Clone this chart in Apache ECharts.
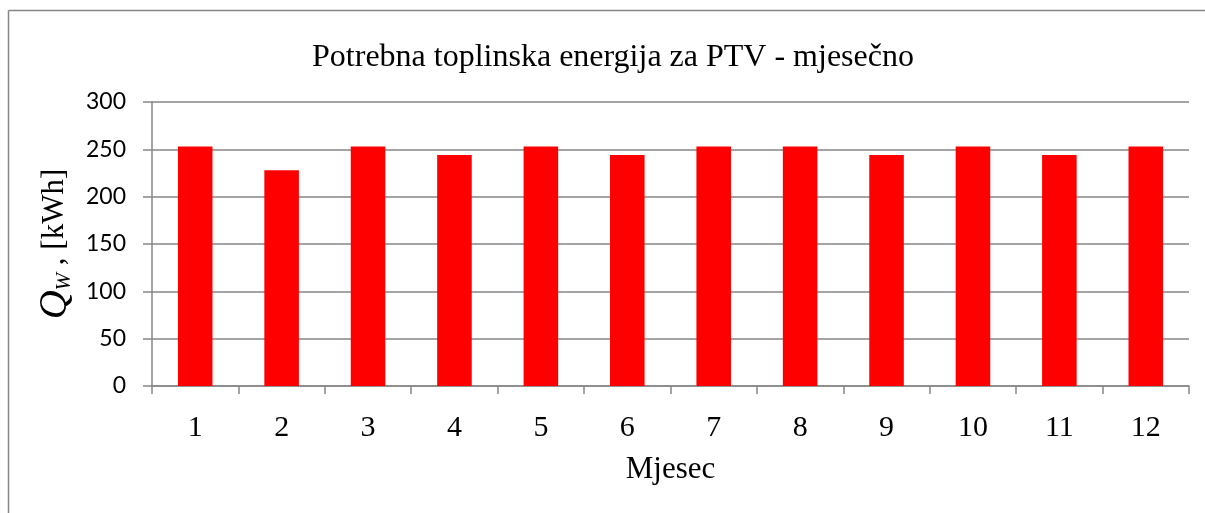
<!DOCTYPE html>
<html>
<head>
<meta charset="utf-8">
<script src="https://cdn.jsdelivr.net/npm/echarts@6/dist/echarts.min.js"></script>
<style>html,body{margin:0;padding:0;background:#fff}#c{width:1205px;height:513px}</style>
</head>
<body>
<div id="c"></div>
<script>
const months = ['1','2','3','4','5','6','7','8','9','10','11','12'];
const energy = [253, 228, 253, 244, 253, 244, 253, 253, 244, 253, 244, 253];
const yTicks = {min: 0, max: 300, interval: 50};
const titleText = 'Potrebna toplinska energija za PTV - mjesečno';
const xName = 'Mjesec';

const chart = echarts.init(document.getElementById('c'), null, {renderer: 'canvas'});
const gray = '#868686';
chart.setOption({
  animation: false,
  backgroundColor: '#fff',
  title: {
    text: titleText, left: 608, top: 37, textAlign: 'center',
    textStyle: {fontFamily: 'Liberation Serif', fontSize: 32, fontWeight: 'normal', color: '#000'}
  },
  graphic: [
    {type: 'line', shape: {x1: 8.5, y1: 10.5, x2: 1205, y2: 10.5}, style: {stroke: gray, lineWidth: 1.5}},
    {type: 'line', shape: {x1: 8.5, y1: 10.5, x2: 8.5, y2: 513}, style: {stroke: gray, lineWidth: 1.5}}
  ],
  grid: {left: 152, right: 16, top: 102, bottom: 127},
  xAxis: {
    type: 'category', data: months,
    name: xName, nameLocation: 'middle', nameGap: 68,
    nameTextStyle: {fontFamily: 'Liberation Serif', fontSize: 31, color: '#000'},
    axisLine: {lineStyle: {color: gray, width: 1.5}},
    axisTick: {show: true, length: 8, lineStyle: {color: gray, width: 1.5}},
    axisLabel: {fontFamily: 'Liberation Serif', fontSize: 30, color: '#000', margin: 27}
  },
  yAxis: {
    type: 'value', min: yTicks.min, max: yTicks.max, interval: yTicks.interval,
    name: '{q|Q}{s|W}{n| , [kWh]}', nameLocation: 'middle', nameRotate: 90, nameGap: 74,
    nameTextStyle: {
      rich: {
        q: {fontFamily: 'Liberation Serif', fontStyle: 'italic', fontSize: 40, color: '#000', lineHeight: 40, verticalAlign: 'middle'},
        s: {fontFamily: 'Liberation Serif', fontStyle: 'italic', fontSize: 21, color: '#000', lineHeight: 8, verticalAlign: 'bottom'},
        n: {fontFamily: 'Liberation Serif', fontSize: 31, color: '#000', lineHeight: 40, verticalAlign: 'middle'}
      }
    },
    axisLine: {show: true, lineStyle: {color: gray, width: 1.5}},
    axisTick: {show: true, length: 9, lineStyle: {color: gray, width: 1.5}},
    splitLine: {show: true, lineStyle: {color: gray, width: 1.5}},
    axisLabel: {fontFamily: 'Lato', fontSize: 23, color: '#000', margin: 26}
  },
  series: [{
    type: 'bar', data: energy, barCategoryGap: '60%',
    itemStyle: {color: '#ff0000'}
  }]
});
</script>
</body>
</html>
